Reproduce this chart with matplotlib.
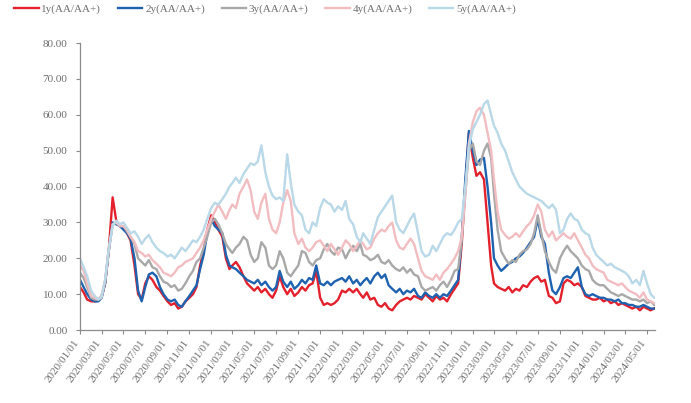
import matplotlib
matplotlib.use("Agg")
import matplotlib.pyplot as plt
import matplotlib.dates as mdates
import matplotlib.transforms as mtransforms
import pandas as pd
from matplotlib.ticker import FormatStrFormatter

# Observation dates: 1st, 11th and 21st of each month, 2020-01 .. 2024-05
months = pd.period_range("2020-01", "2024-05", freq="M")
dates = [pd.Timestamp(year=m.year, month=m.month, day=d) for m in months for d in (1, 11, 21)]

series_names = ["1y(AA/AA+)", "2y(AA/AA+)", "3y(AA/AA+)", "4y(AA/AA+)", "5y(AA/AA+)"]

spread_1y = [
    12.0, 10.5, 8.5,  8.0, 8.0, 8.2,  9.0, 13.0, 22.0,  37.0, 30.5, 29.0,
    28.5, 27.0, 25.0,  18.0, 10.0, 8.5,  13.0, 15.0, 14.0,  12.0, 11.0, 9.5,
    8.0, 7.0, 7.5,  6.0, 6.5, 8.0,  9.0, 10.0, 12.0,  18.0, 22.0, 28.0,
    32.0, 30.0, 28.0,  26.0, 20.0, 17.0,  18.0, 19.0, 17.5,  15.0, 13.0, 12.0,
    11.0, 12.0, 10.5,  11.5, 10.0, 9.0,  11.0, 15.0, 12.0,  10.0, 11.5, 9.5,
    10.5, 12.0, 11.0,  12.5, 13.0, 16.5,  9.0, 7.0, 7.5,  7.0, 7.5, 8.5,
    11.0, 10.5, 11.5,  10.5, 11.5, 10.0,  9.0, 10.5, 8.5,  9.0, 7.0, 6.5,
    7.5, 6.0, 5.5,  7.0, 8.0, 8.5,  9.0, 8.5, 9.5,  9.0, 8.5, 10.0,
    9.0, 8.0, 9.5,  8.5, 9.0, 8.0,  10.0, 11.5, 13.0,  24.0, 40.0, 55.0,
    48.0, 43.0, 44.0,  42.0, 30.0, 18.0,  13.0, 12.0, 11.5,  11.0, 12.0, 10.5,
    11.5, 11.0, 12.5,  12.0, 13.5, 14.5,  15.0, 13.5, 14.0,  9.5, 9.0, 7.5,
    8.0, 13.0, 14.0,  13.5, 12.5, 13.0,  12.0, 9.5, 9.0,  8.5, 8.5, 9.0,
    8.0, 8.5, 7.5,  8.0, 7.0, 7.5,  7.0, 6.5, 6.0,  6.5, 5.5, 6.5,
    6.0, 5.5, 6.0,
]

spread_2y = [
    14.0, 12.0, 10.0,  8.5, 8.0, 8.0,  9.0, 13.0, 22.0,  30.0, 29.5, 29.0,
    28.0, 27.0, 25.5,  20.0, 11.0, 8.0,  12.0, 15.5, 16.0,  15.0, 12.0, 10.0,
    8.5, 8.0, 8.5,  7.0, 6.5, 8.0,  9.5, 11.0, 12.5,  17.0, 21.0, 27.0,
    31.0, 29.0, 28.0,  27.0, 21.0, 18.0,  17.5, 17.0, 16.0,  15.0, 14.0, 13.5,
    13.0, 14.0, 12.5,  13.5, 12.0, 11.0,  12.0, 16.5, 13.5,  12.0, 13.5, 11.5,
    12.5, 14.0, 13.0,  14.5, 14.0, 18.0,  13.0, 12.5, 13.5,  12.5, 13.5, 14.0,
    14.5, 13.5, 15.0,  13.0, 14.0, 12.5,  13.5, 14.5, 13.0,  15.0, 16.0, 14.5,
    15.5, 12.5, 11.5,  10.5, 11.5, 10.0,  11.0, 10.5, 11.5,  9.5, 9.0, 10.5,
    9.5, 9.0, 10.0,  9.0, 10.0, 9.5,  11.0, 12.5, 14.0,  26.0, 42.0, 55.5,
    50.0, 46.0, 47.5,  48.0, 40.0, 30.0,  20.0, 18.0, 16.5,  17.5, 18.5, 19.0,
    20.0, 20.5, 21.5,  23.0, 24.5, 26.0,  31.0, 26.0, 24.0,  16.0, 11.0, 10.0,
    12.0, 14.5, 15.0,  14.5, 16.0, 17.5,  12.0, 10.0, 9.5,  10.0, 9.5, 9.0,
    9.0, 8.5, 8.5,  8.0, 8.5, 7.5,  7.5, 7.0, 7.0,  6.5, 6.5, 7.0,
    6.5, 6.0, 6.0,
]

spread_3y = [
    16.0, 14.5, 12.0,  9.0, 8.5, 8.5,  9.5, 13.5, 22.0,  29.5, 30.0, 29.0,
    29.0, 27.5, 26.0,  24.0, 20.0, 19.0,  18.0, 19.5, 17.5,  17.0, 15.0, 13.5,
    13.0, 12.0, 12.5,  11.0, 11.5, 13.0,  15.0, 16.5, 19.0,  20.0, 23.0, 26.0,
    30.0, 31.0, 29.5,  27.0, 24.0, 22.5,  21.5, 23.0, 24.0,  26.0, 25.0, 21.0,
    19.0, 20.0, 24.5,  23.0, 18.0, 17.0,  18.0, 22.0, 20.0,  16.0, 15.0, 16.5,
    18.0, 22.0, 21.5,  19.0, 18.0, 19.5,  20.0, 22.5, 24.0,  22.0, 21.0, 23.0,
    22.5, 20.0, 22.0,  23.5, 22.0, 24.0,  21.0, 20.5, 19.5,  20.0, 21.0, 19.0,
    18.5, 19.5, 18.0,  17.0, 16.5, 17.5,  16.0, 17.0, 15.5,  15.0, 12.0, 11.0,
    11.5, 12.0, 11.0,  12.5, 13.5, 12.0,  14.0, 16.5, 17.0,  25.0, 38.0, 50.0,
    52.0, 47.0, 46.0,  50.0, 52.0, 48.0,  38.0, 28.0, 22.0,  20.0, 18.5, 19.5,
    19.0, 21.0, 22.0,  22.5, 24.0, 27.0,  32.0, 27.0, 22.0,  19.0, 17.0, 16.0,
    20.0, 22.0, 23.5,  22.0, 21.0, 20.0,  18.0, 17.0, 16.5,  14.0, 13.0, 12.5,
    12.5, 11.5, 10.5,  10.0, 9.5, 10.0,  9.5, 9.0, 8.5,  8.5, 8.0, 8.5,
    7.5, 8.0, 7.0,
]

spread_4y = [
    18.0, 16.5, 13.0,  9.5, 9.0, 8.5,  9.5, 14.0, 22.5,  29.5, 30.0, 29.0,
    29.0, 28.0, 26.0,  24.5, 22.0, 21.5,  20.5, 21.0, 19.5,  18.5, 17.5, 16.0,
    15.5, 15.0, 16.0,  17.5, 18.0, 19.0,  19.5, 20.0, 21.5,  23.0, 25.0, 28.0,
    31.0, 33.0, 35.0,  33.0, 31.0, 33.5,  35.0, 34.0, 38.0,  40.0, 42.0, 39.0,
    33.0, 31.0, 35.5,  38.0, 31.0, 28.0,  27.0, 30.0, 35.5,  39.0, 36.0, 27.0,
    24.0, 25.5, 23.0,  22.0, 23.0, 24.5,  25.0, 23.5, 22.0,  24.0, 22.5, 21.0,
    23.0, 25.0, 24.0,  22.0, 23.5, 25.0,  24.0, 22.5, 23.0,  25.5, 27.0, 28.0,
    27.5, 29.0, 30.0,  25.0, 23.0, 22.5,  24.0, 25.5, 24.0,  20.0, 16.5, 15.0,
    14.5, 14.0, 15.5,  14.0, 16.0, 17.0,  18.5, 20.0, 22.0,  26.0, 38.0, 52.0,
    58.0, 61.0, 62.0,  60.0, 55.0, 50.0,  42.0, 33.0, 28.0,  26.5, 25.5, 26.0,
    27.0, 26.0, 27.5,  29.0, 30.0, 32.0,  35.0, 33.0, 28.0,  26.0, 27.5, 25.0,
    26.0, 27.0, 26.0,  25.5, 27.0, 25.0,  23.0, 21.0, 20.0,  18.0, 17.0, 16.5,
    16.0, 14.0, 13.5,  13.0, 12.5, 13.0,  12.0, 11.0, 10.5,  10.0, 9.0, 10.5,
    8.5, 8.0, 7.5,
]

spread_5y = [
    20.0, 17.5, 15.0,  11.0, 9.5, 8.5,  9.0, 14.0, 22.5,  29.0, 30.5, 29.5,
    30.0, 28.5, 27.0,  27.5, 26.0, 24.0,  25.5, 26.5, 24.5,  23.0, 22.0, 21.5,
    20.5, 21.0, 20.0,  21.5, 23.0, 22.0,  23.5, 25.0, 24.5,  26.0, 28.0, 31.0,
    34.0, 35.5, 35.0,  36.5, 38.0, 40.0,  41.0, 42.5, 41.0,  43.5, 45.0, 46.5,
    46.0, 47.0, 51.5,  44.0, 40.0, 37.5,  36.5, 37.0, 36.0,  49.0, 41.0, 35.0,
    33.0, 32.0, 28.0,  27.0, 30.0, 29.0,  34.0, 36.5, 35.5,  35.0, 33.0, 34.5,
    33.5, 36.0, 31.0,  29.5, 26.0, 24.5,  27.0, 25.5, 24.0,  28.0, 31.5, 33.0,
    34.5, 36.0, 37.5,  30.0, 28.0, 27.0,  29.0, 31.0, 32.5,  27.0, 22.0, 20.5,
    21.0, 23.5, 22.0,  24.0, 26.0, 27.0,  26.5, 28.0, 30.0,  31.0, 40.0, 51.0,
    56.0, 58.0, 60.0,  63.0, 64.0, 60.0,  57.0, 55.0, 52.0,  50.0, 47.0, 44.0,
    42.0, 40.0, 39.0,  38.0, 37.5, 37.0,  36.5, 36.0, 35.0,  34.0, 35.0, 33.5,
    27.0, 28.0, 31.0,  32.5, 31.0, 30.5,  28.0, 27.0, 26.5,  23.0, 21.0, 20.0,
    19.0, 18.0, 18.5,  17.5, 17.0, 16.5,  16.0, 15.0, 13.0,  14.0, 12.5, 16.5,
    13.0, 10.0, 9.0,
]

series_values = [spread_1y, spread_2y, spread_3y, spread_4y, spread_5y]
series_colors = ["#E3202B", "#1F62B0", "#A8A8A8", "#F2BDC1", "#B9D8E8"]

plt.rcParams["font.family"] = ["Liberation Serif", "DejaVu Serif"]

fig = plt.figure(figsize=(6.91, 4.03), dpi=100)
ax = fig.add_axes([0.1158, 0.181, 0.832, 0.712])

for name, vals, col in zip(series_names, series_values, series_colors):
    ax.plot(dates, vals, color=col, lw=1.7, label=name, solid_joinstyle="round")

ax.set_ylim(0, 80)
ax.set_yticks(range(0, 81, 10))
ax.yaxis.set_major_formatter(FormatStrFormatter("%.2f"))

ax.set_xlim(pd.Timestamp("2020-01-01"), pd.Timestamp("2024-05-23"))
ax.xaxis.set_major_locator(mdates.MonthLocator(bymonth=[1, 3, 5, 7, 9, 11], bymonthday=1))
ax.xaxis.set_major_formatter(mdates.DateFormatter("%Y/%m/%d"))

for s in ("top", "right"):
    ax.spines[s].set_visible(False)
for s in ("left", "bottom"):
    ax.spines[s].set_color("#8C8C8C")
    ax.spines[s].set_linewidth(0.9)

ax.tick_params(axis="both", colors="#8C8C8C", length=3, width=0.8,
               labelcolor="#6E6E6E")
ax.tick_params(axis="y", labelsize=8, pad=6)
ax.tick_params(axis="x", labelsize=8, pad=3)

# slanted date labels, nudged slightly left of their ticks
shift = mtransforms.ScaledTranslation(-6 / 100, 0, fig.dpi_scale_trans)
for lbl in ax.get_xticklabels():
    lbl.set_rotation(54)
    lbl.set_ha("right")
    lbl.set_va("top")
    lbl.set_rotation_mode("anchor")
    lbl.set_transform(lbl.get_transform() + shift)

fig.legend(loc="center", bbox_to_anchor=(265 / 691, 1 - 9 / 403), ncol=5, frameon=False,
           fontsize=8, handlelength=2.2, handletextpad=0.25, columnspacing=1.5,
           labelcolor="#6E6E6E")

fig.savefig("out.png", dpi=100)
